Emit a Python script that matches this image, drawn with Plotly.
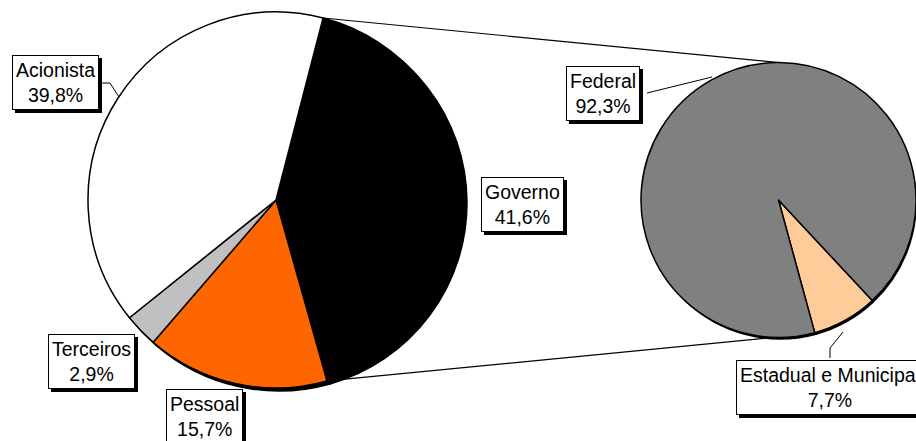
import math
import plotly.graph_objects as go

# ---- data ----
main_labels = ["Governo", "Pessoal", "Terceiros", "Acionista"]
main_values = [41.6, 15.7, 2.9, 39.8]
main_colors = ["#000000", "#FF6600", "#C0C0C0", "#FFFFFF"]
main_text = ["Governo<br>41,6%", "Pessoal<br>15,7%", "Terceiros<br>2,9%", "Acionista<br>39,8%"]

sub_labels = ["Estadual e Municipal", "Federal"]
sub_values = [7.7, 92.3]
sub_colors = ["#FFCC99", "#808080"]
sub_text = ["Estadual e Municipal<br>7,7%", "Federal<br>92,3%"]

# ---- layout geometry (pixels) ----
W, H = 916, 441
L_CX, L_CY, L_R = 276, 200, 188
L_ROT = 14.5
R_X0, R_X1, R_Y0, R_Y1 = 641, 916, 61.5, 338.5
R_ROT = 137
SH = 3  # shadow offset

def px(x):
    return x / W

def py(y):
    return 1 - y / H

FONT = "Liberation Sans, Arial, sans-serif"

fig = go.Figure()

def add_pie(values, colors, dom_px, rot, shadow=False):
    x0, x1, y0, y1 = dom_px
    if shadow:
        x0, x1, y0, y1 = x0 + SH, min(x1 + SH, W), y0 + SH, y1 + SH
    fig.add_trace(go.Pie(
        values=values,
        marker=dict(colors=["#000000"] * len(values) if shadow else colors,
                    line=dict(color="#000000", width=1.5)),
        sort=False, direction="clockwise", rotation=rot,
        textinfo="none", hoverinfo="skip", showlegend=False,
        domain=dict(x=[px(x0), px(x1)], y=[py(y1), py(y0)]),
    ))

left_dom = (L_CX - L_R, L_CX + L_R, L_CY - L_R, L_CY + L_R)
right_dom = (R_X0, R_X1, R_Y0, R_Y1)

add_pie(main_values, main_colors, left_dom, L_ROT, shadow=True)
add_pie(sub_values, sub_colors, right_dom, R_ROT, shadow=True)
add_pie(main_values, main_colors, left_dom, L_ROT)
add_pie(sub_values, sub_colors, right_dom, R_ROT)

# right pie geometry as plotly computes it
r2 = min(R_X1 - R_X0, R_Y1 - R_Y0) / 2
cx2 = (R_X0 + R_X1) / 2
cy2 = (R_Y0 + R_Y1) / 2

# connector lines from the "Governo" slice edges to the second pie
tot = sum(main_values)
a0 = math.radians(L_ROT)
a1 = math.radians(L_ROT + 360 * main_values[0] / tot)
p_top = (L_CX + L_R * math.sin(a0), L_CY - L_R * math.cos(a0))
p_bot = (L_CX + L_R * math.sin(a1), L_CY - L_R * math.cos(a1))

shapes = []
def line(x0, y0, x1, y1, w=1.2):
    shapes.append(dict(type="line", xref="paper", yref="paper",
                       x0=px(x0), y0=py(y0), x1=px(x1), y1=py(y1),
                       line=dict(color="#000000", width=w)))

line(p_top[0], p_top[1], cx2, cy2 - r2)
line(p_bot[0], p_bot[1], cx2 - 6, cy2 + r2)

# leader lines
line(97, 83, 110, 83, 1)
line(110, 83, 119, 97, 1)
line(647, 93, 712, 77, 1)
line(830, 358, 830, 348, 1)
line(830, 348, 843, 332, 1)

annotations = []
label_pos = {
    "Governo<br>41,6%": (522, 204),
    "Pessoal<br>15,7%": (204, 416),
    "Terceiros<br>2,9%": (91, 361),
    "Acionista<br>39,8%": (55, 82),
    "Federal<br>92,3%": (603, 93),
    "Estadual e Municipal<br>7,7%": (830, 387),
}
for txt in main_text + sub_text:
    x, y = label_pos[txt]
    for shadow in (True, False):
        annotations.append(dict(
            text=txt, xref="paper", yref="paper", x=px(x), y=py(y),
            xanchor="center", yanchor="middle", showarrow=False,
            xshift=SH if shadow else 0, yshift=-SH if shadow else 0,
            font=dict(family=FONT, size=19.5, color="#000000"),
            bgcolor="#000000" if shadow else "#FFFFFF",
            bordercolor="#000000", borderwidth=1, borderpad=3,
        ))

fig.update_layout(
    width=W, height=H, margin=dict(l=0, r=0, t=0, b=0),
    paper_bgcolor="#FFFFFF", plot_bgcolor="#FFFFFF",
    shapes=shapes, annotations=annotations,
)

fig.write_html("out.html")
